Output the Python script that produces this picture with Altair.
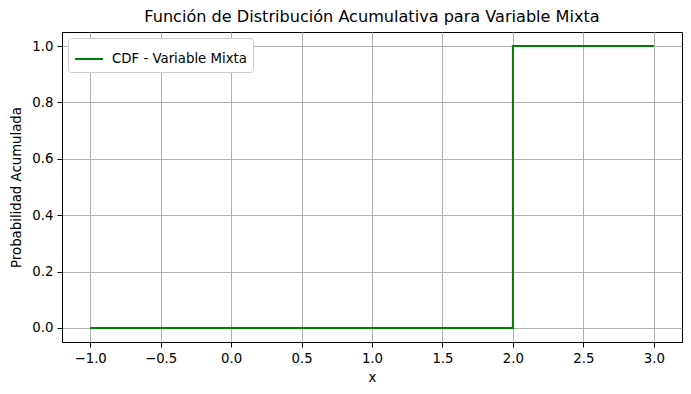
import altair as alt
import pandas as pd

xs = [-1.0, 2.0, 2.0, 3.0]
ys = [0.0, 0.0, 1.0, 1.0]
order = [0, 1, 2, 3]
series = ["CDF - Variable Mixta"] * 4

x_ticks = [-1.0, -0.5, 0.0, 0.5, 1.0, 1.5, 2.0, 2.5, 3.0]
y_ticks = [0.0, 0.2, 0.4, 0.6, 0.8, 1.0]

df = pd.DataFrame({"x": xs, "y": ys, "o": order, "s": series})

font = "DejaVu Sans"

chart = alt.Chart(df).mark_line(strokeWidth=2, clip=False).encode(
    x=alt.X("x:Q", scale=alt.Scale(domain=[-1.2, 3.2], nice=False, zero=False),
            axis=alt.Axis(values=x_ticks, format=".1f", title="x")),
    y=alt.Y("y:Q", scale=alt.Scale(domain=[-0.05, 1.05], nice=False, zero=False),
            axis=alt.Axis(values=y_ticks, format=".1f", title="Probabilidad Acumulada")),
    order="o:Q",
    color=alt.Color("s:N", scale=alt.Scale(range=["#008000"]),
                    legend=alt.Legend(title=None, orient="top-left", offset=6,
                                      symbolType="stroke", symbolSize=784,
                                      symbolStrokeWidth=2, fillColor="white",
                                      strokeColor="#cccccc", cornerRadius=3,
                                      padding=6, labelFontSize=13.3, labelFont=font,
                                      labelColor="black", labelOffset=8)),
).properties(
    width=620, height=310,
    title=alt.TitleParams("Función de Distribución Acumulativa para Variable Mixta",
                          fontSize=16.1, font=font, fontWeight="normal", color="black",
                          offset=7),
    padding={"left": 62, "top": 32, "right": 9, "bottom": 52},
    autosize=alt.AutoSizeParams(type="none"),
).configure_view(
    stroke="black", strokeWidth=1
).configure_axis(
    grid=True, gridColor="#b0b0b0", gridWidth=1,
    domainColor="black", domainWidth=1,
    tickColor="black", tickSize=5, tickWidth=1,
    labelFont=font, labelFontSize=13.3, labelColor="black", labelPadding=4,
    titleFont=font, titleFontSize=13.3, titleFontWeight="normal", titleColor="black",
    labelFlush=False,
).configure_axisX(titlePadding=6).configure_axisY(titlePadding=8)

chart.save("out.html", embed_options={"renderer": "svg", "actions": False})
